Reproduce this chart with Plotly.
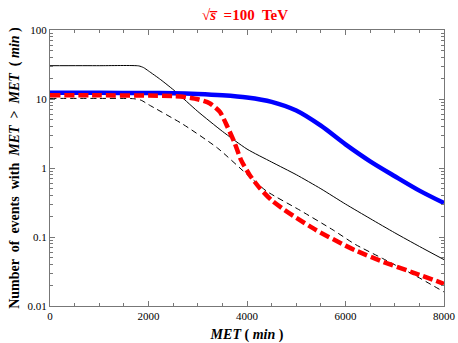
import plotly.graph_objects as go

# black solid curve
met_solid = [0, 1000, 1800, 1900, 2000, 2250, 2550, 3000, 3500, 4000, 4500, 5000, 5500, 6000, 6500, 7000, 7500, 8000]
ev_solid = [30.4, 30.4, 30.2, 28.5, 25.5, 19.0, 12.8, 6.6, 3.4, 1.88, 1.22, 0.8, 0.5, 0.3, 0.185, 0.115, 0.073, 0.047]

# blue thick curve
met_blue = [0, 1000, 2000, 2500, 3000, 3500, 4000, 4500, 5000, 5500, 6000, 6500, 7000, 7500, 8000]
ev_blue = [12.3, 12.3, 12.2, 12.1, 11.8, 11.3, 10.5, 9.1, 6.8, 4.1, 2.2, 1.25, 0.76, 0.47, 0.31]

# red thick dashed curve
met_red = [0, 1000, 2000, 2500, 2700, 3000, 3240, 3450, 3600, 3750, 3880, 4050, 4250, 4500, 4750,
           5000, 5400, 6000, 6200, 6750, 7400, 8000]
ev_red = [11.3, 11.3, 11.2, 11.0, 10.8, 9.9, 8.7, 6.5, 4.0, 2.3, 1.3, 0.8, 0.52, 0.34, 0.25,
          0.19, 0.126, 0.075, 0.064, 0.044, 0.030, 0.021]

# black thin dashed curve
met_dash = [0, 1000, 1700, 1850, 2000, 2700, 3400, 4050, 4400, 5050, 5750, 6200, 6750, 7400, 8000]
ev_dash = [10.2, 10.2, 10.1, 9.6, 8.3, 4.3, 1.95, 0.75, 0.46, 0.25, 0.126, 0.078, 0.049, 0.028, 0.016]

x_ticks = [0, 2000, 4000, 6000, 8000]
y_ticks = [0.01, 0.1, 1, 10, 100]
y_labels = ["0.01", "0.1", "1", "10", "100"]

serif = "Liberation Serif"

fig = go.Figure()
fig.add_trace(go.Scatter(x=met_solid, y=ev_solid, mode="lines", line_shape="spline",
                         line=dict(color="black", width=1, smoothing=0.6)))
fig.add_trace(go.Scatter(x=met_dash, y=ev_dash, mode="lines", line_shape="spline",
                         line=dict(color="black", width=1, dash="6px,4px", smoothing=0.6)))
fig.add_trace(go.Scatter(x=met_blue, y=ev_blue, mode="lines", line_shape="spline",
                         line=dict(color="#0000ff", width=4.5, smoothing=0.8)))
fig.add_trace(go.Scatter(x=met_red, y=ev_red, mode="lines", line_shape="spline",
                         line=dict(color="#ff0000", width=4.5, dash="10px,4px", smoothing=0.6)))

minor_y = [m * 10 ** e for e in range(-2, 2) for m in range(2, 10)]

fig.update_layout(
    width=458, height=343,
    margin=dict(l=50, r=14, t=30, b=37),
    plot_bgcolor="white", paper_bgcolor="white",
    showlegend=False,
    font=dict(family=serif, color="black", size=11),
    title=dict(
        text="√<i>s̅ </i> =100  TeV",
        x=0.535, xanchor="center", y=0.956, yanchor="middle",
        font=dict(family=serif, size=15, color="#ff0000", weight="bold"),
    ),
    xaxis=dict(
        range=[0, 8000], tickvals=x_ticks, ticks="inside", ticklen=5, tickcolor="#777",
        showline=True, linecolor="#777", linewidth=1, mirror="ticks", showgrid=False,
        zeroline=False, tickfont=dict(family=serif, size=11), automargin=False,
        minor=dict(dtick=500, ticks="inside", ticklen=3, tickcolor="#777"),
        title=dict(text="<i>MET</i> ( <i>min</i> )", standoff=14,
                   font=dict(family=serif, size=14, weight="bold")),
    ),
    yaxis=dict(
        type="log", range=[-2, 2], tickvals=y_ticks, ticktext=y_labels, ticks="inside",
        ticklen=5, tickcolor="#777", showline=True, linecolor="#777", linewidth=1,
        mirror="ticks", showgrid=False, zeroline=False, tickfont=dict(family=serif, size=11),
        automargin=False,
        minor=dict(tickvals=minor_y, ticks="inside", ticklen=3, tickcolor="#777"),
        title=dict(text="Number  of  events  with  <i>MET</i>  >  <i>MET</i>  ( <i>min</i> )",
                   standoff=4, font=dict(family=serif, size=14, weight="bold")),
    ),
)

# drop the default 8px page margin so the figure fills the window exactly
fig.write_html("out.html", config={"displayModeBar": False},
               post_script="document.body.style.margin='0';document.body.style.overflow='hidden';")
